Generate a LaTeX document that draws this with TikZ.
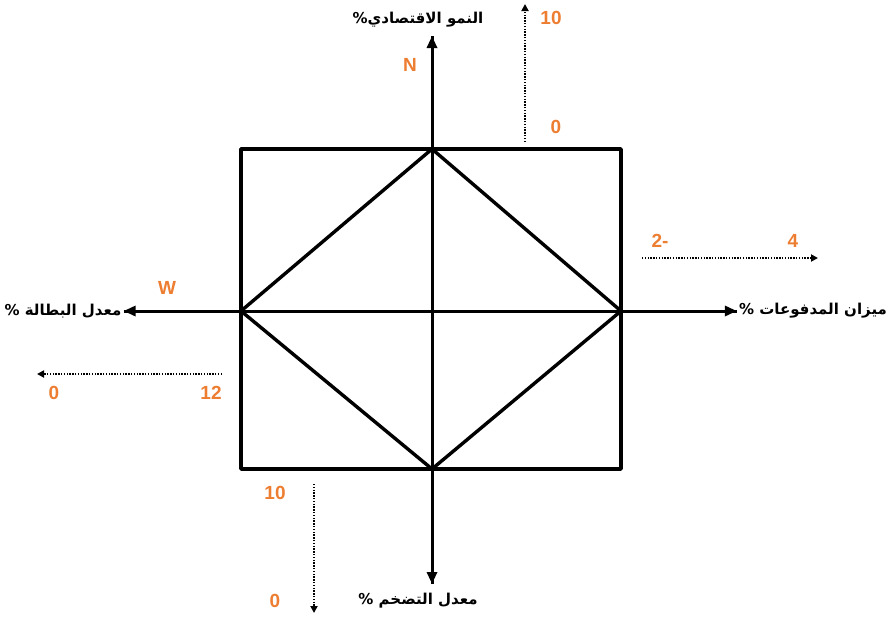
\documentclass[tikz,border=0pt]{standalone}
\usepackage{fontspec}
\setmainfont{Liberation Sans}
\newfontfamily\arabicfont[Script=Arabic]{DejaVu Sans}
\TeXXeTstate=1
\usetikzlibrary{arrows.meta, positioning}
\definecolor{numorange}{RGB}{237,125,49}

\begin{document}
\begin{tikzpicture}[
    x=1pt, y=-1pt,
    frame/.style={line width=3.4pt, line cap=round, line join=round},
    axis/.style={-{Triangle[length=12pt, width=10pt]}, line width=3pt},
    scalearrow/.style={-{Triangle[length=7pt, width=7pt]}, line width=2pt, dash pattern=on 1.4pt off 1.4pt},
    axlabel/.style={font=\arabicfont\bfseries\fontsize{15}{18}\selectfont, inner sep=2pt},
    num/.style={font=\bfseries\fontsize{19}{21}\selectfont, text=numorange, inner sep=0pt}
]
\useasboundingbox (0,0) rectangle (888,619);

% corners of the box and the diamond
\coordinate (tl) at (241,149);
\coordinate (tr) at (621,149);
\coordinate (bl) at (241,469);
\coordinate (br) at (621,469);
\coordinate (top) at (432,149);
\coordinate (bot) at (432,469);
\coordinate (lft) at (241,311);
\coordinate (rgt) at (621,311);

% axis ends
\coordinate (north) at (432,36);
\coordinate (south) at (432,584);

% axis labels
\node[axlabel] (growth) at (418,20) {\beginR النمو الاقتصادي\%\endR};
\node[axlabel] (unemp) at (63,311) {\beginR معدل البطالة \%\endR};
\node[axlabel] (balance) at (813,311) {\beginR ميزان المدفوعات \%\endR};
\node[axlabel] (infl) at (418,601) {\beginR معدل التضخم \%\endR};

% orange values
\node[num] (n) at (410,65) {N};
\node[num] (w) at (167,288) {W};
\node[num] (g10) at (551,18) {10};
\node[num] (g0) at (556,127) {0};
\node[num] (bm2) at (660,241) {2-};
\node[num] (b4) at (793,241) {4};
\node[num] (u0) at (54,393) {0};
\node[num] (u12) at (211,393) {12};
\node[num] (i10) at (275,493) {10};
\node[num] (i0) at (275,601) {0};

% scale arrows
\coordinate (gs) at (525,142);
\coordinate (ge) at (525,4);
\coordinate (bs) at (642,258);
\coordinate (be) at (818,258);
\coordinate (us) at (222,374);
\coordinate (ue) at (37,374);
\coordinate (is) at (314,484);
\coordinate (ie) at (314,613);

\draw[frame] (tl) rectangle (br);
\draw[frame] (top) -- (rgt) -- (bot) -- (lft) -- cycle;

\draw[axis] (south) -- (north);
\draw[axis] (north) -- (south);
\draw[axis] (unemp.east) -- (balance.west);
\draw[axis] (balance.west) -- (unemp.east);

\draw[scalearrow] (gs) -- (ge);
\draw[scalearrow] (bs) -- (be);
\draw[scalearrow] (us) -- (ue);
\draw[scalearrow] (is) -- (ie);
\end{tikzpicture}
\end{document}
